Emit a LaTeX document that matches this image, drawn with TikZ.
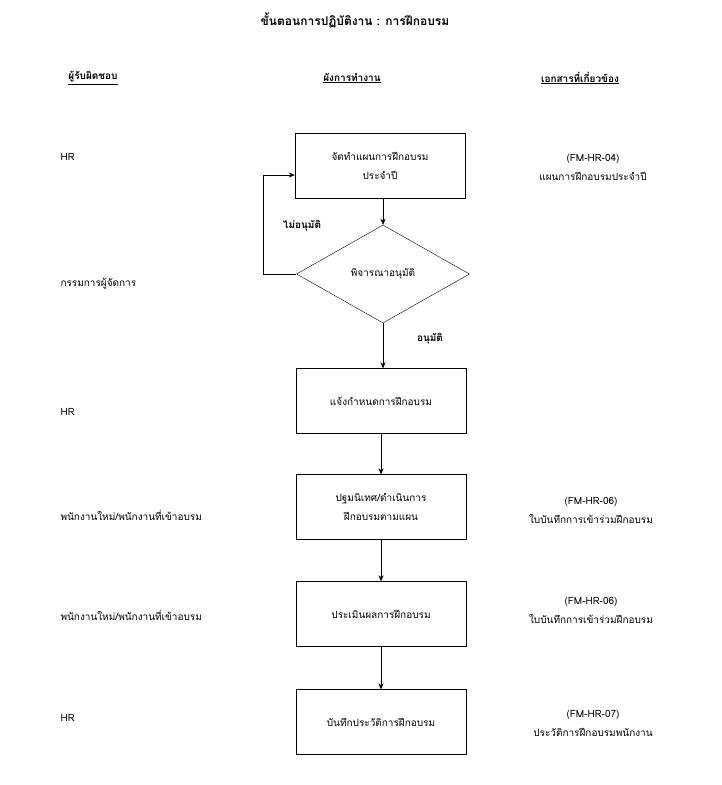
\documentclass[tikz,border=0pt]{standalone}
\usepackage{fontspec}
\setmainfont[Script=Thai]{Loma}
\usetikzlibrary{positioning,shapes.geometric,arrows.meta}
\tikzset{
block/.style={
  draw,
  rectangle,
  text width=150pt,
  align=center,
  minimum width=170pt,
  minimum height=65pt,
  font=\fontsize{10}{19}\selectfont
  },
decide/.style={draw, diamond, aspect=1.76, minimum width=173pt, minimum height=98pt, inner sep=0pt, font=\fontsize{10}{12}\selectfont},
line/.style={draw, -{Stealth[length=6pt,width=5pt]}},
txt/.style={font=\fontsize{10}{19}\selectfont, align=center},
head/.style={font=\bfseries\fontsize{10}{12}\selectfont}
}
\begin{document}
\begin{tikzpicture}[x=1pt,y=-1pt]
\useasboundingbox[fill=white] (0,0) rectangle (721,785);

\node[head, font=\bfseries\fontsize{12}{14}\selectfont] (title) at (355,20) {ขั้นตอนการปฏิบัติงาน : การฝึกอบรม};
\node[head] (hwho) at (93,78) {\underline{ผู้รับผิดชอบ}};
\node[head] (hflow) at (352,78) {\underline{ผังการทำงาน}};
\node[head] (hdoc) at (580,78) {\underline{เอกสารที่เกี่ยวข้อง}};

% flow
\node[block] (plan) at (380,166) {จัดทำแผนการฝึกอบรม\\ประจำปี};
\node[decide] (check) at (383,274) {พิจารณาอนุมัติ};
\node[block] (notify) at (381,401) {แจ้งกำหนดการฝึกอบรม};
\node[block] (train) at (381,507) {ปฐมนิเทศ/ดำเนินการ\\ฝึกอบรมตามแผน};
\node[block] (eval) at (381,614) {ประเมินผลการฝึกอบรม};
\node[block] (record) at (381,722) {บันทึกประวัติการฝึกอบรม};

\draw[line] (plan.south -| check.north) -- (check.north);
\draw[line] (check.south) -- (notify.north -| check.south);
\draw[line] (notify) -- (train);
\draw[line] (train) -- (eval);
\draw[line] (eval) -- (record);
\coordinate (back) at (263,274);
\draw[line] (check.west) -- (back) -- (back |- 0,175) -- (plan.west |- 0,175);

\node[head] (no) at (302,226) {ไม่อนุมัติ};
\node[head] (yes) at (430,339) {อนุมัติ};

% responsible
\node[txt, anchor=west] (w1) at (57,157) {HR};
\node[txt, anchor=west] (w2) at (57,284) {กรรมการผู้จัดการ};
\node[txt, anchor=west] (w3) at (57,412) {HR};
\node[txt, anchor=west] (w4) at (57,515) {พนักงานใหม่/พนักงานที่เข้าอบรม};
\node[txt, anchor=west] (w5) at (57,615) {พนักงานใหม่/พนักงานที่เข้าอบรม};
\node[txt, anchor=west] (w6) at (57,718) {HR};

% documents
\node[txt] (d1) at (593,167) {(FM-HR-04)\\แผนการฝึกอบรมประจำปี};
\node[txt] (d2) at (591,510) {(FM-HR-06)\\ใบบันทึกการเข้าร่วมฝึกอบรม};
\node[txt] (d3) at (591,610) {(FM-HR-06)\\ใบบันทึกการเข้าร่วมฝึกอบรม};
\node[txt] (d4) at (593,723) {(FM-HR-07)\\ประวัติการฝึกอบรมพนักงาน};
\end{tikzpicture}
\end{document}
